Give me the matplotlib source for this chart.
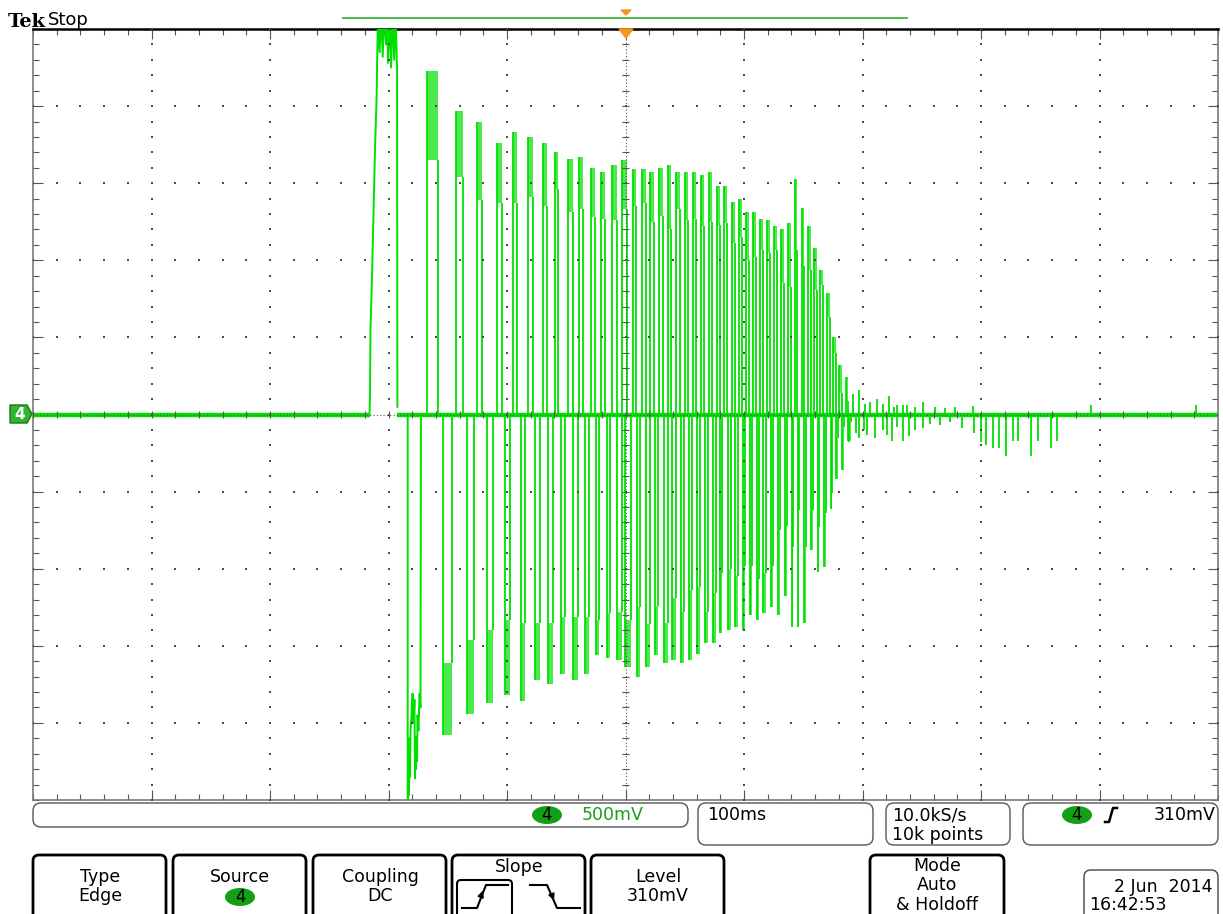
import numpy as np
import matplotlib
matplotlib.use('Agg')
import matplotlib.pyplot as plt
from matplotlib.patches import FancyBboxPatch, Polygon, Ellipse

# trace values: time in ms (0 = trigger), voltage in V
# first big pulse, drawn point by point (top is clipped by the screen)
p0_t = [-216.0, -215.6, -215.2, -213.9, -212.7, -211.4, -210.1, -208.9, -207.5, -206.2,
        -204.9, -203.6, -202.1, -201.2, -200.4, -199.1, -197.8, -196.5, -195.2, -194.0,
        -192.8, -192.5]
p0_v = [0.0, 0.13, 0.55, 0.90, 1.29, 1.72, 2.04, 2.60, 2.35, 2.60,
        2.32, 2.60, 2.40, 2.60, 2.28, 2.60, 2.25, 2.60, 2.30, 2.60,
        2.25, 0.05]

# first big negative swing, also point by point (bottom is clipped)
n0_t = [-183.8, -183.8, -183.1, -182.7, -182.3, -181.8, -181.4, -180.6, -179.7, -178.9,
        -178.1, -177.6, -177.2, -176.8, -176.4, -175.9, -175.5, -174.7, -173.8, -173.0,
        -172.6]
n0_v = [0.0, -2.60, -2.20, -2.47, -2.10, -2.35, -2.05, -1.95, -1.81, -2.00,
        -1.85, -2.36, -2.10, -2.30, -2.09, -2.25, -1.95, -2.05, -1.81, -1.90,
        0.0]

# positive pulses: start, end, peak, bottom of the noisy top
pos_t0 = [-167.5, -143.0, -125.3, -108.4, -94.9, -82.3, -69.6, -59.5, -48.5, -39.2,
          -29.1, -20.7, -11.4, -3.0, 6.3, 13.9, 20.7, 28.3, 35.9, 42.6,
          50.2, 57.0, 63.7, 70.5, 77.2, 83.1, 89.9, 95.8, 101.7, 107.6,
          113.5, 119.4, 125.3, 131.2, 137.1, 143.0, 148.9, 154.0, 159.1, 164.1,
          170.0, 175.1, 180.2, 186.1]
pos_t1 = [-158.2, -137.1, -121.1, -104.2, -91.6, -78.1, -66.2, -57.0, -44.3, -35.9,
          -25.7, -17.3, -7.2, 1.3, 8.9, 17.3, 24.1, 31.6, 38.4, 46.0,
          52.7, 59.5, 66.2, 73.0, 79.7, 85.7, 92.4, 98.3, 104.2, 110.1,
          116.0, 121.9, 127.8, 133.8, 139.7, 144.7, 150.6, 156.5, 161.6, 166.7,
          172.6, 177.6, 182.7, 187.8]
pos_peak = [2.23, 1.97, 1.90, 1.76, 1.83, 1.80, 1.76, 1.70, 1.66, 1.67,
            1.60, 1.57, 1.62, 1.65, 1.59, 1.59, 1.57, 1.60, 1.62, 1.57,
            1.57, 1.57, 1.55, 1.57, 1.48, 1.48, 1.38, 1.40, 1.31, 1.31,
            1.27, 1.26, 1.22, 1.20, 1.24, 1.53, 1.34, 1.22, 1.08, 0.94,
            0.79, 0.50, 0.32, 0.24]
pos_band = [1.65, 1.54, 1.39, 1.37, 1.37, 1.41, 1.35, 1.46, 1.31, 1.33,
            1.28, 1.27, 1.26, 1.33, 1.35, 1.37, 1.25, 1.29, 1.20, 1.33,
            1.26, 1.27, 1.22, 1.25, 1.23, 1.24, 1.11, 1.15, 1.00, 1.02,
            1.07, 1.05, 1.07, 0.85, 0.83, 1.07, 0.96, 0.94, 0.81, 0.84,
            0.63, 0.40, 0.14, 0.09]

# negative pulses: start, end, lowest value, top of the noisy bottom
neg_t0 = [-154.0, -133.8, -116.9, -101.7, -88.2, -76.4, -65.4, -54.4, -44.3,
          -34.2, -24.9, -15.6, -7.2, -0.4, 9.7, 17.3, 24.9, 32.5, 39.2,
          46.8, 53.6, 60.3, 67.1, 73.8, 79.7, 86.5, 92.4, 99.2, 105.1,
          111.0, 116.0, 122.8, 128.7, 134.6, 140.5, 145.6, 150.6, 156.5, 162.4,
          167.5, 173.4, 177.6, 182.7, 187.8]
neg_t1 = [-146.4, -127.8, -111.8, -97.5, -84.8, -72.2, -61.2, -51.1, -40.1,
          -30.8, -22.4, -13.1, -3.0, 4.6, 12.2, 20.7, 27.4, 35.9, 42.6,
          49.4, 56.1, 62.9, 69.6, 76.4, 81.4, 89.0, 94.9, 100.8, 106.8,
          112.7, 118.6, 124.5, 130.4, 136.3, 141.4, 146.4, 152.3, 158.2, 163.3,
          169.2, 174.3, 179.3, 184.4, 190.3]
neg_low = [-2.08, -1.94, -1.87, -1.82, -1.86, -1.72, -1.75, -1.68, -1.72,
           -1.68, -1.56, -1.58, -1.59, -1.64, -1.70, -1.64, -1.56, -1.61, -1.59,
           -1.61, -1.59, -1.55, -1.48, -1.48, -1.42, -1.40, -1.38, -1.40, -1.30,
           -1.33, -1.29, -1.25, -1.30, -1.18, -1.38, -1.38, -1.35, -0.88, -1.02,
           -0.99, -0.61, -0.42, -0.36, -0.17]
neg_band = [-1.61, -1.46, -1.40, -1.33, -1.35, -1.35, -1.35, -1.31, -1.31,
            -1.31, -1.33, -1.29, -1.28, -1.33, -1.25, -1.36, -1.24, -1.35, -1.19,
            -1.28, -1.14, -1.12, -1.28, -1.16, -1.03, -1.00, -1.05, -0.98, -0.98,
            -1.07, -1.03, -0.98, -0.75, -0.72, -0.86, -0.62, -0.86, -0.62, -0.73,
            -0.64, -0.51, -0.15, -0.08, -0.05]

# ringing after the burst
ring_up_t = [191.6, 197.0, 202.1, 206.3, 212.2, 217.3, 222.4, 226.6, 229.1, 234.2,
             237.6, 244.3, 251.1, 261.2, 269.6, 278.1, 293.2, 392.8, 481.4]
ring_up_v = [0.13, 0.16, 0.07, 0.08, 0.10, 0.07, 0.12, 0.05, 0.06, 0.06,
             0.06, 0.05, 0.08, 0.05, 0.04, 0.05, 0.055, 0.06, 0.06]
ring_dn_t = [188.6, 194.5, 197.0, 201.3, 203.8, 210.5, 217.3, 220.7, 224.9, 229.1,
             234.2, 239.2, 244.3, 251.1, 257.0, 265.4, 273.9, 284.0, 294.1, 300.0,
             304.2, 310.1, 315.2, 321.1, 327.0, 331.2, 342.2, 348.1, 359.1, 364.1]
ring_dn_v = [-0.18, -0.12, -0.15, -0.10, -0.13, -0.15, -0.10, -0.13, -0.17, -0.08,
             -0.17, -0.14, -0.10, -0.09, -0.06, -0.07, -0.05, -0.09, -0.12, -0.18,
             -0.20, -0.22, -0.22, -0.27, -0.17, -0.17, -0.27, -0.17, -0.22, -0.17]

green = '#00e000'
dot = '#4a4a4a'

W, H = 1223, 914
fig = plt.figure(figsize=(W / 100, H / 100), dpi=100)
ax = fig.add_axes([33 / W, (H - 800) / H, 1185 / W, 771 / H])
ax.set_xlim(-500, 500)
ax.set_ylim(-2.5, 2.5)

# baseline (noise band) around the pulse train
ax.hlines(0, -500, p0_t[0], color=green, lw=3.2, zorder=2)
ax.hlines(0, p0_t[-1], 500, color=green, lw=3.2, zorder=2)
ax.plot(p0_t, p0_v, color=green, lw=1.4, zorder=3)
ax.plot(n0_t, n0_v, color=green, lw=1.4, zorder=3)

pos_h = np.subtract(pos_peak, pos_band)
pos_w = np.subtract(pos_t1, pos_t0)
ax.vlines(pos_t0, 0, pos_peak, color=green, lw=1.3, zorder=3)
ax.vlines(pos_t1, 0, pos_band, color=green, lw=1.3, zorder=3)
ax.bar(pos_t0, pos_h, width=pos_w, bottom=pos_band, align='edge', color=green,
       alpha=0.7, lw=0, zorder=3)

neg_h = np.subtract(neg_band, neg_low)
neg_w = np.subtract(neg_t1, neg_t0)
ax.vlines(neg_t0, neg_low, 0, color=green, lw=1.3, zorder=3)
ax.vlines(neg_t1, neg_band, 0, color=green, lw=1.3, zorder=3)
ax.bar(neg_t0, neg_h, width=neg_w, bottom=neg_low, align='edge', color=green,
       alpha=0.7, lw=0, zorder=3)

ax.vlines(ring_up_t, 0, ring_up_v, color=green, lw=1.3, zorder=3)
ax.vlines(ring_dn_t, ring_dn_v, 0, color=green, lw=1.3, zorder=3)

# graticule: dotted division lines, dense centre cross
major_t = np.arange(-400, 401, 100)
major_v = np.arange(-2.0, 2.01, 0.5)
minor_t = np.arange(-500, 501, 20)
minor_v = np.arange(-2.5, 2.51, 0.1)
for v in major_v:
    if abs(v) > 1e-6:
        ax.scatter(minor_t, np.full(len(minor_t), v), s=1.2, marker='s', color=dot, lw=0, zorder=5)
for t in major_t:
    if t != 0:
        ax.scatter(np.full(len(minor_v), t), minor_v, s=1.2, marker='s', color=dot, lw=0, zorder=5)
ax.axhline(0, color='#555555', lw=0.8, ls=(0, (1, 2)), zorder=5)
ax.axvline(0, color='#555555', lw=0.8, ls=(0, (1, 2)), zorder=5)
ax.vlines(minor_t, -0.025, 0.025, color='#555555', lw=0.8, zorder=5)
ax.hlines(minor_v, -3.0, 3.0, color='#555555', lw=0.8, zorder=5)

ax.set_xticks(major_t)
ax.set_xticks(minor_t, minor=True)
ax.set_yticks(major_v)
ax.set_yticks(minor_v, minor=True)
ax.tick_params(which='both', direction='in', top=True, right=True, bottom=True, left=True,
               labelbottom=False, labelleft=False, color='#555555', width=0.8)
ax.tick_params(which='major', length=7)
ax.tick_params(which='minor', length=4)
for side in ['left', 'right', 'bottom']:
    ax.spines[side].set_color('#7a7a7a')
    ax.spines[side].set_linewidth(1.2)
ax.spines['top'].set_color('black')
ax.spines['top'].set_linewidth(1.8)

# screen decorations in pixel coordinates
deco = fig.add_axes([0, 0, 1, 1], zorder=10)
deco.set_xlim(0, W)
deco.set_ylim(H, 0)
deco.axis('off')
deco.patch.set_alpha(0)

font = 'DejaVu Sans'
deco.text(8, 27, 'Tek', family='DejaVu Serif', weight='bold', fontsize=14, va='baseline', color='black')
deco.text(48, 25, 'Stop', family=font, fontsize=13, va='baseline', color='black')
deco.plot([343, 907], [18, 18], color='#3cb43c', lw=1.3)
orange = '#f7941d'
deco.add_patch(Polygon([[621, 10], [631, 10], [626, 15]], closed=True, color=orange))
deco.add_patch(Polygon([[619, 29], [633, 29], [626, 38]], closed=True, color=orange))

# channel 4 marker
deco.add_patch(Polygon([[10, 405], [27, 405], [32, 414], [27, 423], [10, 423]], closed=True,
                       facecolor='#2fb52f', edgecolor='#167a16', lw=1))
deco.text(19.5, 414.5, '4', color='white', fontsize=11, weight='bold', ha='center', va='center', family=font)


def rbox(x0, y0, x1, y1, lw=1.0, ec='#555555', r=8):
    deco.add_patch(FancyBboxPatch((x0, y0), x1 - x0, y1 - y0,
                                  boxstyle='round,pad=0,rounding_size=%d' % r,
                                  facecolor='white', edgecolor=ec, lw=lw, zorder=1))


def badge(x, y):
    deco.add_patch(Ellipse((x, y), 30, 18, facecolor='#14a014', edgecolor='none', zorder=2))
    deco.text(x, y + 0.5, '4', color='black', fontsize=12, ha='center', va='center', family=font, zorder=3)


fs = 12.5
# status row
rbox(33, 803, 688, 827)
badge(547, 815)
deco.text(582, 815, '500mV', color='#1a9e1a', fontsize=fs, va='center', family=font)
rbox(698, 803, 873, 845)
deco.text(707, 815, '100ms', color='black', fontsize=fs, va='center', family=font)
rbox(886, 803, 1010, 845)
deco.text(892, 815, '10.0kS/s', color='black', fontsize=fs, va='center', family=font)
deco.text(892, 835, '10k points', color='black', fontsize=fs, va='center', family=font)
rbox(1023, 803, 1218, 845)
badge(1077, 815)
deco.plot([1105, 1109, 1113, 1117], [822, 822, 808, 808], color='black', lw=1.8)
deco.text(1216, 815, '310mV', color='black', fontsize=fs, va='center', ha='right', family=font)

# menu buttons
buttons = [(33, 166), (173, 306), (313, 446), (452, 585), (591, 724), (870, 1004)]
for x0, x1 in buttons:
    rbox(x0, 855, x1, 940, lw=2.0, ec='black', r=6)
deco.text(100, 877, 'Type', fontsize=fs, ha='center', va='center', family=font)
deco.text(100, 896, 'Edge', fontsize=fs, ha='center', va='center', family=font)
deco.text(240, 877, 'Source', fontsize=fs, ha='center', va='center', family=font)
badge(240, 897)
deco.text(380, 877, 'Coupling', fontsize=fs, ha='center', va='center', family=font)
deco.text(380, 896, 'DC', fontsize=fs, ha='center', va='center', family=font)
deco.text(519, 867, 'Slope', fontsize=fs, ha='center', va='center', family=font)
rbox(457, 880, 512, 930, lw=1.5, ec='black', r=4)
deco.plot([462, 477, 486, 508], [908, 908, 885, 885], color='black', lw=1.5)
deco.annotate('', xy=(484, 888), xytext=(480, 899),
              arrowprops=dict(arrowstyle='-|>', color='black', lw=1.2, mutation_scale=9))
deco.plot([530, 547, 557, 580], [885, 885, 908, 908], color='black', lw=1.5)
deco.annotate('', xy=(555, 903), xytext=(551, 893),
              arrowprops=dict(arrowstyle='-|>', color='black', lw=1.2, mutation_scale=9))
deco.text(658, 877, 'Level', fontsize=fs, ha='center', va='center', family=font)
deco.text(658, 896, '310mV', fontsize=fs, ha='center', va='center', family=font)
deco.text(937, 866, 'Mode', fontsize=fs, ha='center', va='center', family=font)
deco.text(937, 885, 'Auto', fontsize=fs, ha='center', va='center', family=font)
deco.text(937, 905, '& Holdoff', fontsize=fs, ha='center', va='center', family=font)

# date box
rbox(1084, 870, 1218, 930, lw=1.0, ec='#444444', r=7)
deco.text(1213, 887, '2 Jun  2014', fontsize=fs, ha='right', va='center', family=font)
deco.text(1089, 905, '16:42:53', fontsize=fs, ha='left', va='center', family=font)

fig.savefig('out.png', dpi=100)
